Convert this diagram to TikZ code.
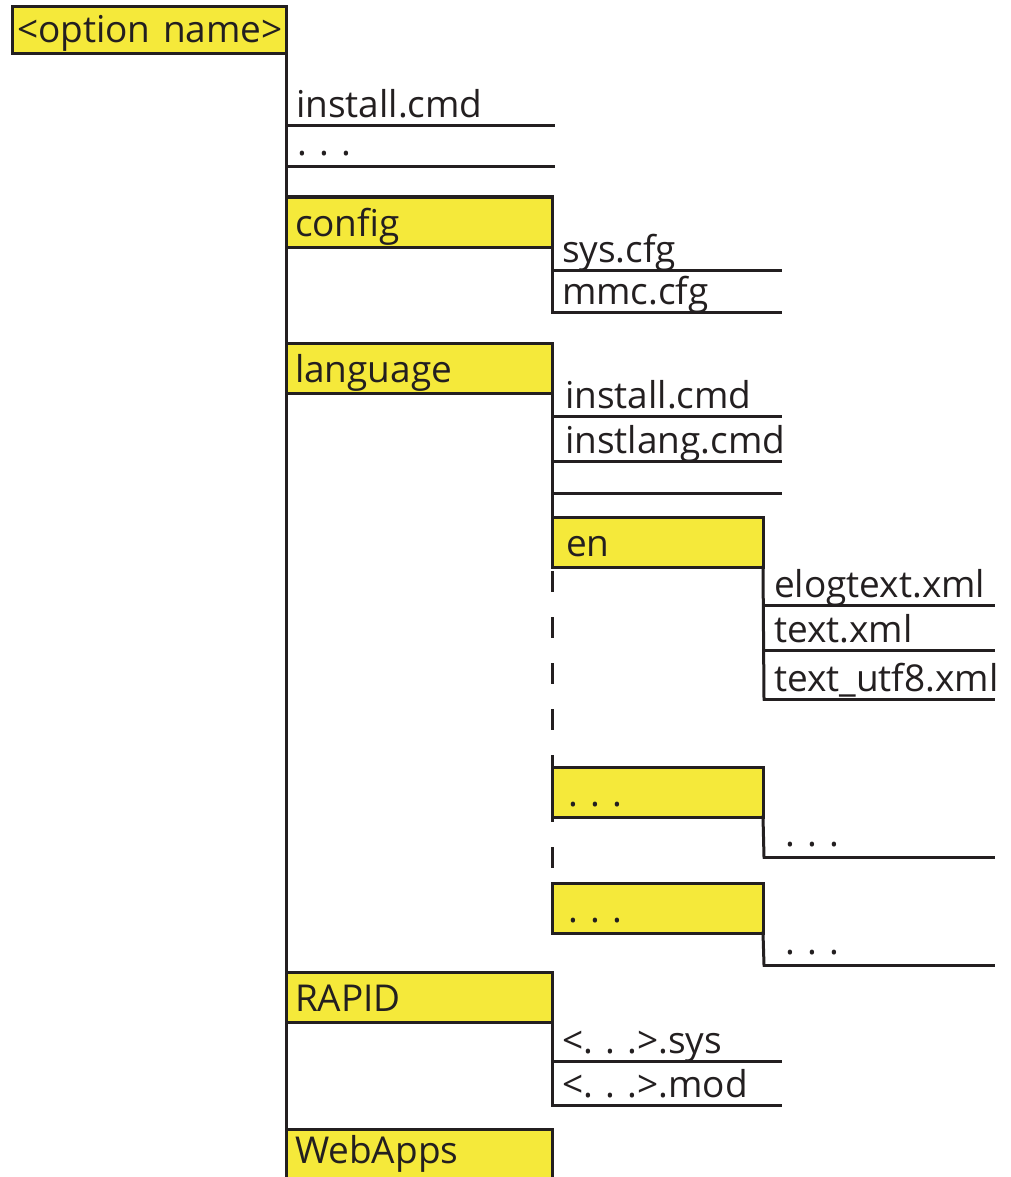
\documentclass[tikz,border=0pt]{standalone}
\usepackage{fontspec}
\setmainfont{Open Sans}
\usetikzlibrary{positioning}
\definecolor{folderyellow}{HTML}{F5E93A}
\definecolor{treeline}{HTML}{231F20}
\frenchspacing
\hyphenpenalty=10000
\tikzset{
  tree/.style={draw=treeline, line width=3pt, line cap=rect},
  folder/.style={draw=treeline, fill=folderyellow, line width=3pt, anchor=north west,
    outer sep=0pt, inner xsep=9pt, inner ysep=0pt, text width=#1, align=left,
    text height=39pt, text depth=11pt, font=\fontsize{37}{40}\selectfont, text=treeline},
  file/.style={anchor=south west, outer sep=0pt, inner xsep=10pt, inner ysep=0pt,
    text width=#1, align=left, text height=30pt, text depth=8pt,
    font=\fontsize{37}{40}\selectfont, text=treeline},
}

\begin{document}
\begin{tikzpicture}[x=1pt,y=-1pt]
  \useasboundingbox (0,0) rectangle (1010,1177);
  \clip (0,0) rectangle (1010,1177);
  % top level
  \node[folder=264pt, inner xsep=5pt, text height=36pt] (root) at (12,7) {\mbox{<option name>}};
  \node[file=247pt] (install) at (286,126) {install.cmd};
  \node[file=247pt, text depth=11pt] (etc) at (286,167) {\hspace*{1pt}. . .};
  \node[folder=248pt] (config) at (286,197) {config};
  \node[file=208pt] (syscfg) at (552,270) {sys.cfg};
  \node[file=208pt] (mmccfg) at (552,312) {mmc.cfg};
  \node[folder=248pt] (language) at (286,343) {language};
  \node[file=208pt] (langinst) at (552,416) {\hspace*{3pt}install.cmd};
  \node[file=208pt] (instlang) at (552,461) {\hspace*{3pt}instlang.cmd};
  \node[file=208pt] (blank) at (552,493) {};
  % languages
  \node[folder=193pt] (en) at (552,517) {\hspace*{5pt}en};
  \node[file=209pt] (elog) at (764,605) {elogtext.xml};
  \node[file=209pt] (textxml) at (764,650) {text.xml};
  \node[file=209pt] (utf8) at (764,699) {text\_utf8.xml};
  \node[folder=193pt] (langa) at (552,767) {\hspace*{7pt}. . .};
  \node[file=209pt, text depth=11pt] (langafile) at (764,857) {\hspace*{11pt}. . .};
  \node[folder=193pt] (langb) at (552,883) {\hspace*{7pt}. . .};
  \node[file=209pt, text depth=11pt] (langbfile) at (764,965) {\hspace*{11pt}. . .};
  % programs
  \node[folder=248pt] (rapid) at (286,972) {RAPID};
  \node[file=208pt] (sys) at (552,1061) {<. . .>.sys};
  \node[file=208pt] (mod) at (552,1105) {<. . .>.mod};
  \node[folder=248pt, text height=34pt, text depth=20pt] (webapps) at (286,1129) {WebApps};

  % connectors
  \draw[tree] (root.south east) -- (webapps.north west);
  \foreach \f in {install,etc,syscfg,mmccfg,langinst,instlang,blank,
                  elog,textxml,utf8,langafile,langbfile,sys,mod}
    \draw[tree] (\f.south west) -- (\f.south east);
  \draw[tree] (config.south east) -- (mmccfg.south west);
  \draw[tree] (language.south east) -- (en.north west);
  \draw[tree] (en.south east) -- (utf8.south west);
  \draw[tree, line cap=butt, dash pattern=on 21pt off 25pt, dash phase=-4pt]
    (en.south west) -- (langb.south west);
  \draw[tree] (langa.south east) -- (langafile.south west);
  \draw[tree] (langb.south east) -- (langbfile.south west);
  \draw[tree] (rapid.south east) -- (mod.south west);
\end{tikzpicture}
\end{document}
